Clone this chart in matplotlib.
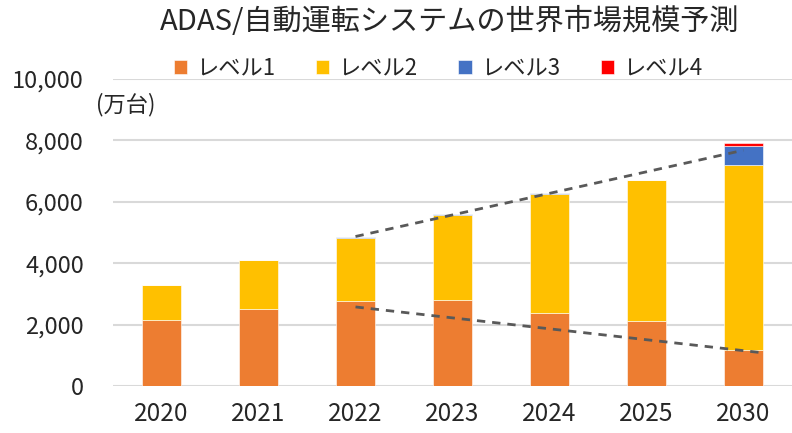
import matplotlib
matplotlib.use("Agg")
import matplotlib.pyplot as plt
import numpy as np

plt.rcParams['font.family'] = ['Noto Sans CJK JP', 'DejaVu Sans']

# data (万台)
years = ["2020", "2021", "2022", "2023", "2024", "2025", "2030"]
level1 = [2165, 2510, 2780, 2800, 2390, 2120, 1170]
level2 = [1110, 1590, 2055, 2785, 3860, 4575, 6040]
level3 = [0, 0, 10, 15, 40, 30, 615]
level4 = [0, 0, 0, 0, 0, 0, 90]

series_names = ["レベル1", "レベル2", "レベル3", "レベル4"]
colors = ["#ED7D31", "#FFC000", "#4472C4", "#FF0000"]

# trend guide lines (x = category index)
upper_x = [2.0, 6.0]
upper_y = [4870, 7680]
lower_x = [2.0, 6.2]
lower_y = [2575, 1080]

fig = plt.figure(figsize=(7.92, 4.33), dpi=100)
ax = fig.add_axes([113 / 792, 1 - 386 / 433, 1 - 113 / 792, (386 - 79) / 433])

x = np.arange(len(years))
bottom = np.zeros(len(years))
handles = []
for vals, name, c in zip([level1, level2, level3, level4], series_names, colors):
    b = ax.bar(x, vals, width=0.41, bottom=bottom, color=c, label=name,
               edgecolor="white", linewidth=0.4, zorder=3)
    handles.append(b)
    bottom += np.array(vals)

ax.plot(upper_x, upper_y, color="#595959", lw=2, ls=(0, (3, 2.5)), zorder=4)
ax.plot(lower_x, lower_y, color="#595959", lw=2, ls=(0, (3, 2.5)), zorder=4)

ax.set_xlim(-0.5, 6.5)
ax.set_ylim(0, 10000)
ax.set_yticks(np.arange(0, 10001, 2000))
ax.set_yticklabels([f"{v:,}" for v in range(0, 10001, 2000)])
ax.set_xticks(x)
ax.set_xticklabels(years)
ax.tick_params(axis="y", length=0, pad=21, labelsize=17, labelcolor="#262626")
ax.tick_params(axis="x", length=0, pad=11, labelsize=17.5, labelcolor="#262626")
ax.grid(axis="y", color="#D9D9D9", lw=1.5, zorder=0)
for s in ax.spines.values():
    s.set_visible(False)

fig.text(450 / 792, 1 - 22 / 433, "ADAS/自動運転システムの世界市場規模予測",
         ha="center", va="center", fontsize=21, color="#262626")
fig.text(126 / 792, 1 - 105 / 433, "(万台)", ha="center", va="center",
         fontsize=16, color="#262626")

fig.legend(handles=handles, labels=series_names, loc="center",
           bbox_to_anchor=(438 / 792, 1 - 68 / 433), ncol=4, frameon=False,
           fontsize=16, handlelength=0.6, handleheight=0.6, handletextpad=0.4,
           columnspacing=1.85, labelcolor="#262626")

fig.savefig("out.png", dpi=100)
